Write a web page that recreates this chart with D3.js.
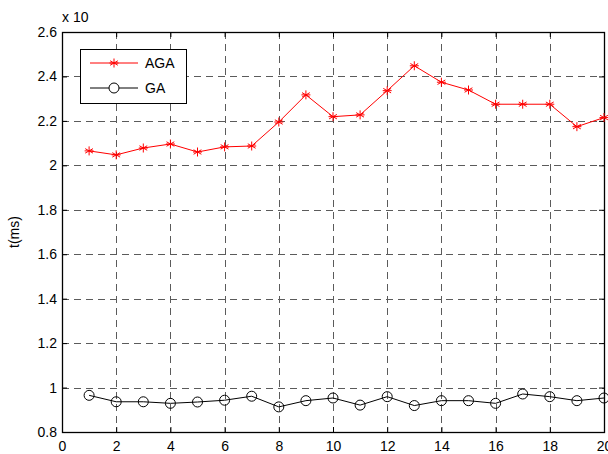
<!DOCTYPE html>
<html>
<head>
<meta charset="utf-8">
<script src="https://cdn.jsdelivr.net/npm/d3@7"></script>
<style>
  body { margin: 0; background: #fff; }
  svg text { font-family: "Liberation Sans", Arial, sans-serif; font-size: 14px; fill: #000; }
</style>
</head>
<body>
<svg id="chart" width="608" height="454"></svg>
<script>
// run index and measured times (x 10 ms)
const runs = d3.range(1, 21);
const agaTimes = [2.065, 2.047, 2.078, 2.096, 2.06, 2.083, 2.087, 2.195, 2.317, 2.219,
                  2.227, 2.336, 2.448, 2.374, 2.339, 2.275, 2.275, 2.275, 2.174, 2.215];
const gaTimes = [0.965, 0.936, 0.936, 0.929, 0.935, 0.943, 0.961, 0.913, 0.941, 0.953,
                 0.921, 0.959, 0.919, 0.941, 0.941, 0.929, 0.971, 0.959, 0.941, 0.953];
const xTicks = [0, 2, 4, 6, 8, 10, 12, 14, 16, 18, 20];
const yTicks = [0.8, 1, 1.2, 1.4, 1.6, 1.8, 2, 2.2, 2.4, 2.6];

const svg = d3.select("#chart");
const plotL = 62, plotR = 604, plotT = 32, plotB = 432;

const x = d3.scaleLinear().domain([0, 20]).range([plotL, plotR]);
const y = d3.scaleLinear().domain([0.8, 2.6]).range([plotB, plotT]);

// grid
const grid = svg.append("g")
  .attr("stroke", "#333").attr("stroke-width", 1)
  .attr("stroke-dasharray", "7,5").attr("opacity", 0.8);
grid.selectAll(".gx").data(xTicks.slice(1, -1)).enter().append("line")
  .attr("x1", d => Math.round(x(d)) + 0.5).attr("x2", d => Math.round(x(d)) + 0.5)
  .attr("y1", plotT).attr("y2", plotB);
grid.selectAll(".gy").data(yTicks.slice(1, -1)).enter().append("line")
  .attr("y1", d => Math.round(y(d)) + 0.5).attr("y2", d => Math.round(y(d)) + 0.5)
  .attr("x1", plotL).attr("x2", plotR);

// axes (ticks inside, MATLAB style)
const fmt = d => String(d);
svg.append("g").attr("transform", `translate(0,${plotB})`)
  .call(d3.axisBottom(x).tickValues(xTicks).tickSize(-5).tickPadding(9).tickFormat(fmt))
  .call(g => g.select(".domain").remove());
svg.append("g").attr("transform", `translate(${plotL},0)`)
  .call(d3.axisLeft(y).tickValues(yTicks).tickSize(-5).tickPadding(5).tickFormat(fmt))
  .call(g => g.select(".domain").remove());
svg.append("g").attr("transform", `translate(0,${plotT})`)
  .call(d3.axisTop(x).tickValues(xTicks).tickSize(-5).tickFormat(""))
  .call(g => g.select(".domain").remove());
svg.append("g").attr("transform", `translate(${plotR},0)`)
  .call(d3.axisRight(y).tickValues(yTicks).tickSize(-5).tickFormat(""))
  .call(g => g.select(".domain").remove());
svg.selectAll(".tick text").style("font-size", "14px")
  .style("font-family", "'Liberation Sans', Arial, sans-serif");

svg.append("rect")
  .attr("x", plotL + 0.5).attr("y", plotT + 0.5)
  .attr("width", plotR - plotL).attr("height", plotB - plotT)
  .attr("fill", "none").attr("stroke", "#000").attr("stroke-width", 1.3);

// series
const line = d3.line().x(d => x(d[0])).y(d => y(d[1]));
const agaData = runs.map((r, i) => [r, agaTimes[i]]);
const gaData = runs.map((r, i) => [r, gaTimes[i]]);

function star(g, cx, cy, color) {
  const r = 4.5;
  [0, 60, 120].forEach(a => {
    const rad = a * Math.PI / 180;
    g.append("line")
      .attr("x1", cx - r * Math.sin(rad)).attr("y1", cy - r * Math.cos(rad))
      .attr("x2", cx + r * Math.sin(rad)).attr("y2", cy + r * Math.cos(rad))
      .attr("stroke", color).attr("stroke-width", 1);
  });
  g.append("line").attr("x1", cx - r).attr("x2", cx + r).attr("y1", cy).attr("y2", cy)
    .attr("stroke", color).attr("stroke-width", 1);
}

svg.append("path").datum(agaData).attr("d", line)
  .attr("fill", "none").attr("stroke", "#ff0000").attr("stroke-width", 1);
const agaMarks = svg.append("g");
agaData.forEach(d => star(agaMarks, x(d[0]), y(d[1]), "#ff0000"));

svg.append("path").datum(gaData).attr("d", line)
  .attr("fill", "none").attr("stroke", "#000").attr("stroke-width", 1);
svg.append("g").selectAll("circle").data(gaData).enter().append("circle")
  .attr("cx", d => x(d[0])).attr("cy", d => y(d[1])).attr("r", 5)
  .attr("fill", "none").attr("stroke", "#000").attr("stroke-width", 1);

// legend
const lg = svg.append("g");
lg.append("rect").attr("x", 80.5).attr("y", 49.5).attr("width", 106).attr("height", 54)
  .attr("fill", "#fff").attr("stroke", "#000").attr("stroke-width", 1);
lg.append("line").attr("x1", 90).attr("x2", 138).attr("y1", 63).attr("y2", 63)
  .attr("stroke", "#ff0000").attr("stroke-width", 1);
star(lg, 114, 63, "#ff0000");
lg.append("text").attr("x", 145).attr("y", 68).text("AGA");
lg.append("line").attr("x1", 90).attr("x2", 138).attr("y1", 88).attr("y2", 88)
  .attr("stroke", "#000").attr("stroke-width", 1);
lg.append("circle").attr("cx", 114).attr("cy", 88).attr("r", 5)
  .attr("fill", "#fff").attr("stroke", "#000").attr("stroke-width", 1);
lg.append("text").attr("x", 145).attr("y", 93).text("GA");

// labels
svg.append("text").attr("x", 62).attr("y", 22).text("x 10");
svg.append("text")
  .attr("transform", `translate(19,${(plotT + plotB) / 2}) rotate(-90)`)
  .attr("text-anchor", "middle").text("t(ms)");
</script>
</body>
</html>
